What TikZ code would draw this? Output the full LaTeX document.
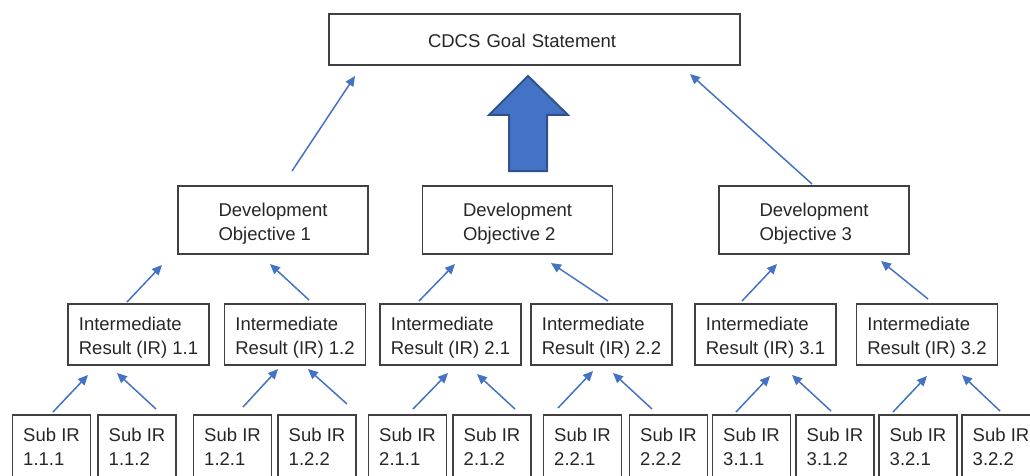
\documentclass[tikz,border=0pt]{standalone}
\usepackage{fontspec}
\setmainfont{Liberation Sans}
\usetikzlibrary{arrows.meta}
\definecolor{linkblue}{HTML}{4472C4}
\definecolor{edgenavy}{HTML}{2F528F}
\definecolor{boxgray}{HTML}{404040}
\definecolor{inkgray}{HTML}{262626}
\tikzset{
  cellbox/.style={draw=boxgray, text=inkgray, line width=1.3pt, inner sep=0pt, align=left,
    font=\fontsize{18.5pt}{24pt}\selectfont},
  goalcell/.style={cellbox, minimum width=411pt, minimum height=51pt, text width=213pt},
  docell/.style={cellbox, minimum width=190pt, minimum height=68pt},
  ircell/.style={cellbox, minimum width=141pt, minimum height=61pt},
  subcell/.style={cellbox, minimum width=78pt, minimum height=64pt},
  link/.style={draw=linkblue, line width=1.5pt, -{Triangle[length=10pt,width=9pt]}}
}
\newcommand{\topstrut}{\rule{0pt}{20pt}}
\newcommand{\donode}[3]{\node[docell] (#1) at (#2,220) {\topstrut Development\\Objective #3};}
\newcommand{\irnode}[3]{\node[ircell] (#1) at (#2,334.5) {\topstrut Intermediate\\Result (IR) #3};}
\newcommand{\subir}[3]{\node[subcell] (#1) at (#2,447) {Sub IR\\#3};}
\newcommand{\uplink}[5]{\coordinate (#1a) at (#2,#3); \coordinate (#1b) at (#4,#5); \draw[link] (#1a) -- (#1b);}

\begin{document}
\begin{tikzpicture}[x=1pt, y=-1pt]
        \useasboundingbox (0,0) rectangle (1030,476);
        \clip (0,0) rectangle (1030,476);

        % goal
        \node[goalcell] (goal) at (534.5,39.5) {\rule{0pt}{17pt}CDCS Goal Statement};

        % objectives
        \donode{do1}{273}{1}
        \donode{do2}{517.5}{2}
        \donode{do3}{814}{3}

        % intermediate results
        \irnode{ir11}{138.5}{1.1}
        \irnode{ir12}{295}{1.2}
        \irnode{ir21}{450.5}{2.1}
        \irnode{ir22}{601.5}{2.2}
        \irnode{ir31}{765.5}{3.1}
        \irnode{ir32}{927}{3.2}

        % sub IRs
        \subir{s111}{51.5}{1.1.1}
        \subir{s112}{137}{1.1.2}
        \subir{s121}{232.5}{1.2.1}
        \subir{s122}{317}{1.2.2}
        \subir{s211}{407.5}{2.1.1}
        \subir{s212}{492}{2.1.2}
        \subir{s221}{582.5}{2.2.1}
        \subir{s222}{668.5}{2.2.2}
        \subir{s311}{751.5}{3.1.1}
        \subir{s312}{835}{3.1.2}
        \subir{s321}{918}{3.2.1}
        \subir{s322}{1001}{3.2.2}

        % big arrow
        \draw[fill=linkblue, draw=edgenavy, line width=2pt, line join=miter]
          (528,76) -- (568,115) -- (547,115) -- (547,171) -- (509,171) -- (509,115) -- (489,115) -- cycle;

        % objectives to goal
        \uplink{g1}{292}{171}{355}{76}
        \uplink{g3}{812}{184}{690}{74}

        % IRs to objectives
        \uplink{d11}{127}{302}{162}{265}
        \uplink{d12}{309}{300}{270}{264}
        \uplink{d21}{419}{301}{455}{264}
        \uplink{d22}{608}{301}{551}{263}
        \uplink{d31}{742}{301}{777}{264}
        \uplink{d32}{928}{299}{881}{261}

        % sub IRs to IRs
        \uplink{i111}{53}{412}{88}{375}
        \uplink{i112}{156}{409}{117}{373}
        \uplink{i121}{243}{407}{278}{369}
        \uplink{i122}{347}{404}{308}{369}
        \uplink{i211}{413}{409}{448}{373}
        \uplink{i212}{515}{409}{477}{374}
        \uplink{i221}{558}{408}{593}{371}
        \uplink{i222}{652}{409}{613}{373}
        \uplink{i311}{736}{412}{770}{376}
        \uplink{i312}{831}{411}{792}{375}
        \uplink{i321}{893}{412}{927}{376}
        \uplink{i322}{1000}{411}{962}{375}
\end{tikzpicture}
\end{document}
